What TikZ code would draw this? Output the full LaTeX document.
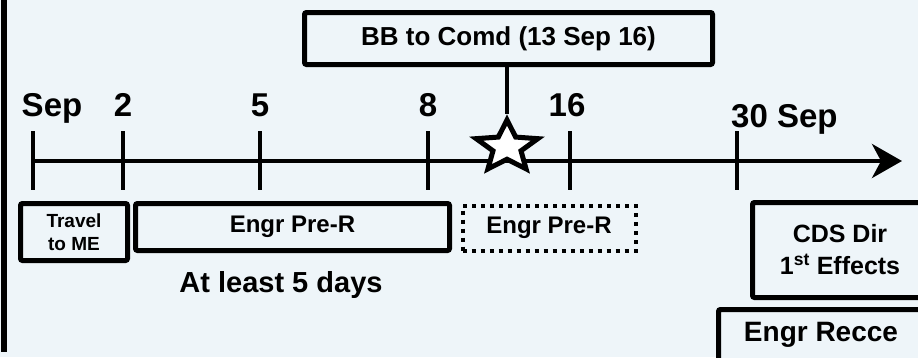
\documentclass[tikz,border=0pt]{standalone}
\usepackage{fontspec}
\setmainfont{Liberation Sans}
\usetikzlibrary{arrows.meta,positioning,shapes.geometric}
\definecolor{scanpaper}{HTML}{EEF5F9}
\tikzset{
  phasebox/.style={draw=black,line width=5pt,rounded corners=2pt,fill=scanpaper,font=\bfseries,align=center,inner sep=0pt},
  dotbox/.style={phasebox,line width=4pt,dash pattern=on 4pt off 5pt,rounded corners=0pt},
  daylabel/.style={font=\fontsize{33}{36}\selectfont\bfseries,anchor=base,inner sep=0pt},
  daytick/.style={draw=black,line width=4pt},
  axisline/.style={draw=black,line width=4pt,-{Stealth[length=30pt,width=34pt,inset=9pt]}}
}
\begin{document}
\begin{tikzpicture}[x=1pt,y=-1pt]
\clip (0,0) rectangle (918,357);
\fill[scanpaper] (0,0) rectangle (918,357);
\draw[line width=6pt] (4,-5) -- (4,352);
% time line
\foreach \x/\n in {33/sep,123/d2,260/d5,428/d8,570/d16,737/d30}{
  \coordinate (\n) at (\x,161);
  \draw[daytick] (\n) ++(0,-30) -- ++(0,59);
}
\coordinate (tlend) at (902,161);
\draw[axisline] (sep) -- (tlend);
\node[daylabel] (lsep) at (52,116) {Sep};
\node[daylabel] (l2) at (123,116) {2};
\node[daylabel] (l5) at (260,116) {5};
\node[daylabel] (l8) at (428,116) {8};
\node[daylabel] (l16) at (567,116) {16};
\node[daylabel,anchor=base west] (l30) at (731,127) {30 Sep};
% milestone
\node[phasebox,minimum width=408pt,minimum height=52pt,font=\fontsize{26}{30}\selectfont\bfseries] (bb) at (508.5,38.5) {BB to Comd (13 Sep 16)};
\node[star,star points=5,star point ratio=2.2,draw,fill=white,line width=5pt,minimum size=54pt,inner sep=0pt,xscale=1.2] (bbstar) at (507,147) {};
\draw[line width=4pt] (bbstar.north |- bb.south) -- (bbstar.north);
% phases
\node[phasebox,minimum width=107pt,minimum height=57pt,font=\fontsize{19}{23}\selectfont\bfseries] (travel) at (74,232) {Travel\\to ME};
\node[phasebox,minimum width=314pt,minimum height=47pt,font=\fontsize{24}{28}\selectfont\bfseries] (prer) at (292.5,227) {Engr Pre-R};
\node[dotbox,minimum width=173pt,minimum height=45pt,font=\fontsize{24}{28}\selectfont\bfseries] (prer2) at (549,228) {Engr Pre-R};
\node[font=\fontsize{29}{33}\selectfont\bfseries] (least) at (281,285) {At least 5 days};
\node[phasebox,minimum width=175pt,minimum height=95pt,font=\fontsize{25}{32}\selectfont\bfseries] (cds) at (840,250) {CDS Dir\\1\textsuperscript{st} Effects};
\node[phasebox,minimum width=205pt,minimum height=51pt,font=\fontsize{28}{32}\selectfont\bfseries] (recce) at (821,335) {Engr Recce};
\end{tikzpicture}
\end{document}
